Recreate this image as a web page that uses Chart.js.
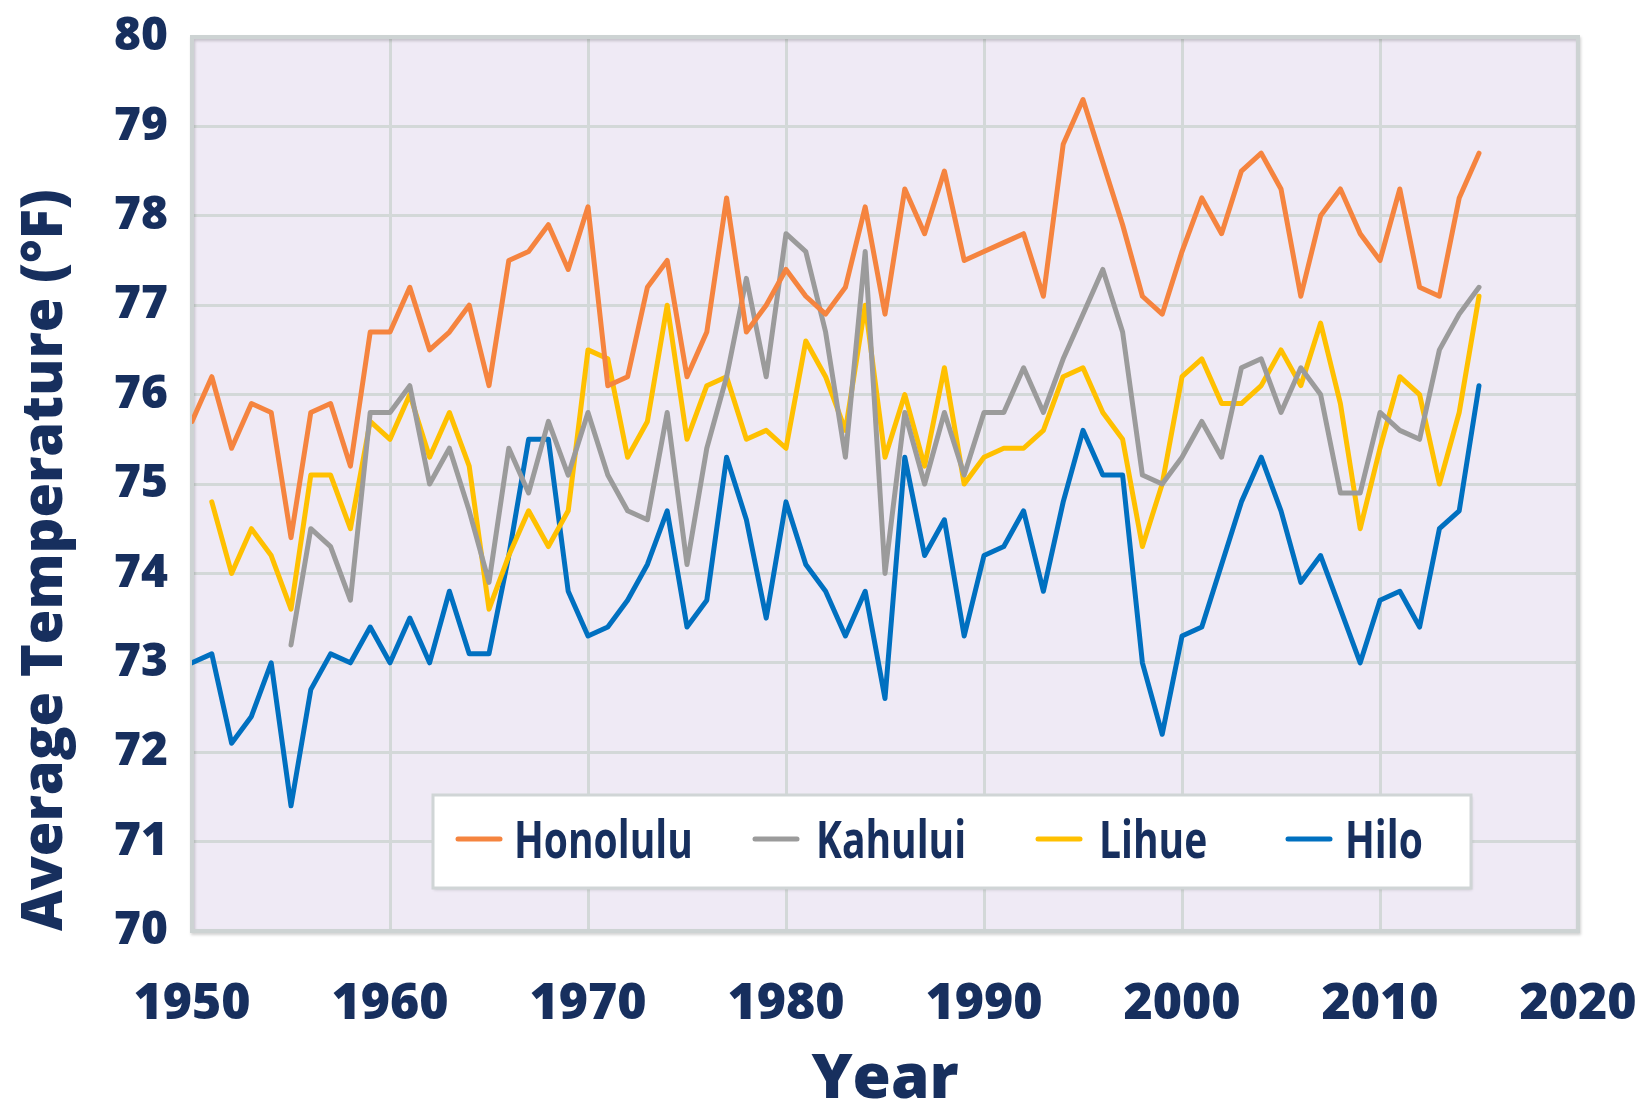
<!DOCTYPE html>
<html><head><meta charset="utf-8">
<script src="https://cdn.jsdelivr.net/npm/chart.js@4.4.1/dist/chart.umd.min.js"></script>
<style>html,body{margin:0;padding:0;background:#fff;}#wrap{width:1644px;height:1105px;}</style>
</head><body><div id="wrap"><canvas id="c" width="1644" height="1105"></canvas></div>
<script>
const years = [1950,1951,1952,1953,1954,1955,1956,1957,1958,1959,1960,1961,1962,1963,1964,1965,1966,1967,1968,1969,1970,1971,1972,1973,1974,1975,1976,1977,1978,1979,1980,1981,1982,1983,1984,1985,1986,1987,1988,1989,1990,1991,1992,1993,1994,1995,1996,1997,1998,1999,2000,2001,2002,2003,2004,2005,2006,2007,2008,2009,2010,2011,2012,2013,2014,2015];
const honolulu = [75.7,76.2,75.4,75.9,75.8,74.4,75.8,75.9,75.2,76.7,76.7,77.2,76.5,76.7,77.0,76.1,77.5,77.6,77.9,77.4,78.1,76.1,76.2,77.2,77.5,76.2,76.7,78.2,76.7,77.0,77.4,77.1,76.9,77.2,78.1,76.9,78.3,77.8,78.5,77.5,77.6,77.7,77.8,77.1,78.8,79.3,78.6,77.9,77.1,76.9,77.6,78.2,77.8,78.5,78.7,78.3,77.1,78.0,78.3,77.8,77.5,78.3,77.2,77.1,78.2,78.7];
const kahului = [null,null,null,null,null,73.2,74.5,74.3,73.7,75.8,75.8,76.1,75.0,75.4,74.7,73.9,75.4,74.9,75.7,75.1,75.8,75.1,74.7,74.6,75.8,74.1,75.4,76.2,77.3,76.2,77.8,77.6,76.7,75.3,77.6,74.0,75.8,75.0,75.8,75.1,75.8,75.8,76.3,75.8,76.4,76.9,77.4,76.7,75.1,75.0,75.3,75.7,75.3,76.3,76.4,75.8,76.3,76.0,74.9,74.9,75.8,75.6,75.5,76.5,76.9,77.2];
const lihue = [null,74.8,74.0,74.5,74.2,73.6,75.1,75.1,74.5,75.7,75.5,76.0,75.3,75.8,75.2,73.6,74.2,74.7,74.3,74.7,76.5,76.4,75.3,75.7,77.0,75.5,76.1,76.2,75.5,75.6,75.4,76.6,76.2,75.6,77.0,75.3,76.0,75.2,76.3,75.0,75.3,75.4,75.4,75.6,76.2,76.3,75.8,75.5,74.3,75.0,76.2,76.4,75.9,75.9,76.1,76.5,76.1,76.8,75.9,74.5,75.4,76.2,76.0,75.0,75.8,77.1];
const hilo = [73.0,73.1,72.1,72.4,73.0,71.4,72.7,73.1,73.0,73.4,73.0,73.5,73.0,73.8,73.1,73.1,74.2,75.5,75.5,73.8,73.3,73.4,73.7,74.1,74.7,73.4,73.7,75.3,74.6,73.5,74.8,74.1,73.8,73.3,73.8,72.6,75.3,74.2,74.6,73.3,74.2,74.3,74.7,73.8,74.8,75.6,75.1,75.1,73.0,72.2,73.3,73.4,74.1,74.8,75.3,74.7,73.9,74.2,73.6,73.0,73.7,73.8,73.4,74.5,74.7,76.1];
const seriesNames = ['Honolulu','Kahului','Lihue','Hilo'];
const seriesColors = ['#F5843F','#9B9B9B','#FFC000','#0070C0'];
const xTitle = 'Year';
const yTitle = 'Average Temperature (°F)';

const navy = '#172F5E';
const FONT = '"Open Sans", "DejaVu Sans", sans-serif';

function pts(arr){ return years.map((yr,i)=>({x:yr, y:arr[i]})); }
const seriesData = [honolulu, kahului, lihue, hilo];

const plotBg = {
  id:'plotBg',
  beforeDraw(chart){
    const {ctx, chartArea:a} = chart;
    ctx.save();
    ctx.fillStyle = '#EFEAF5';
    ctx.fillRect(a.left, a.top, a.right-a.left, a.bottom-a.top);
    ctx.restore();
  },
  beforeDatasetsDraw(chart){
    const {ctx, chartArea:a} = chart;
    ctx.save();
    ctx.shadowColor = 'rgba(0,0,0,0.18)';
    ctx.shadowBlur = 3; ctx.shadowOffsetX = 1; ctx.shadowOffsetY = 2;
    ctx.strokeStyle = '#CDD3D3';
    ctx.lineWidth = 4;
    ctx.strokeRect(a.left, a.top, a.right-a.left, a.bottom-a.top);
    ctx.restore();
  }
};

const boxLegend = {
  id:'boxLegend',
  afterDraw(chart){
    const {ctx, chartArea:a} = chart;
    const bx = a.left + 241, by = a.top + 758, bw = 1038, bh = 93;
    ctx.save();
    ctx.shadowColor = 'rgba(0,0,0,0.15)';
    ctx.shadowBlur = 3; ctx.shadowOffsetX = 1; ctx.shadowOffsetY = 2;
    ctx.fillStyle = '#FFFFFF';
    ctx.fillRect(bx, by, bw, bh);
    ctx.shadowColor = 'transparent';
    ctx.strokeStyle = '#D0D5D6';
    ctx.lineWidth = 3;
    ctx.strokeRect(bx, by, bw, bh);
    const lineX = [25, 322, 605, 855];
    const textX = [81, 383, 666, 912];
    chart.data.datasets.forEach((ds, i) => {
      ctx.strokeStyle = ds.borderColor;
      ctx.lineWidth = 5;
      ctx.lineCap = 'round';
      ctx.beginPath();
      ctx.moveTo(bx + lineX[i], by + 44);
      ctx.lineTo(bx + lineX[i] + 42, by + 44);
      ctx.stroke();
      ctx.save();
      ctx.translate(bx + textX[i], by + 63);
      ctx.scale(0.75, 1);
      ctx.font = 'bold 52px ' + FONT;
      ctx.fillStyle = navy;
      ctx.textBaseline = 'alphabetic';
      ctx.textAlign = 'left';
      ctx.fillText(ds.label, 0, 0);
      ctx.restore();
    });
    ctx.restore();
  }
};

new Chart(document.getElementById('c'), {
  type:'line',
  data:{
    datasets: seriesNames.map((name,i)=>({
      label:name,
      data:pts(seriesData[i]),
      borderColor:seriesColors[i],
      backgroundColor:seriesColors[i],
      borderWidth:5,
      pointRadius:0,
      tension:0,
      borderJoinStyle:'round',
      borderCapStyle:'round',
      spanGaps:false,
      fill:false
    }))
  },
  options:{
    responsive:false,
    animation:false,
    devicePixelRatio:1,
    layout:{padding:{top:37,right:66,bottom:0,left:0}},
    plugins:{legend:{display:false}, tooltip:{enabled:false}},
    scales:{
      x:{
        type:'linear', min:1950, max:2020,
        ticks:{stepSize:10, padding:0, color:navy, font:{family:FONT, size:50, weight:800}, callback:v=>String(v), maxRotation:0, autoSkip:false},
        grid:{color:'#D3D8D8', lineWidth:3, drawTicks:true, tickLength:44, tickColor:'rgba(0,0,0,0)'},
        border:{display:false},
        title:{display:true, text:xTitle, color:navy, font:{family:FONT, size:62, weight:800, lineHeight:0.8}, padding:{top:0,bottom:0}},
        afterFit(s){ s.height = 174; }
      },
      y:{
        min:70, max:80,
        ticks:{stepSize:1, padding:0, color:navy, font:{family:FONT, size:46, weight:800}},
        grid:{color:'#D3D8D8', lineWidth:3, drawTicks:true, tickLength:24, tickColor:'rgba(0,0,0,0)'},
        border:{display:false},
        title:{display:true, text:yTitle, align:'start', color:navy, font:{family:FONT, size:56, weight:800, lineHeight:1}, padding:{top:18,bottom:0}},
        afterFit(s){ s.width = 192; }
      }
    }
  },
  plugins:[plotBg, boxLegend]
});
</script>
</body></html>
